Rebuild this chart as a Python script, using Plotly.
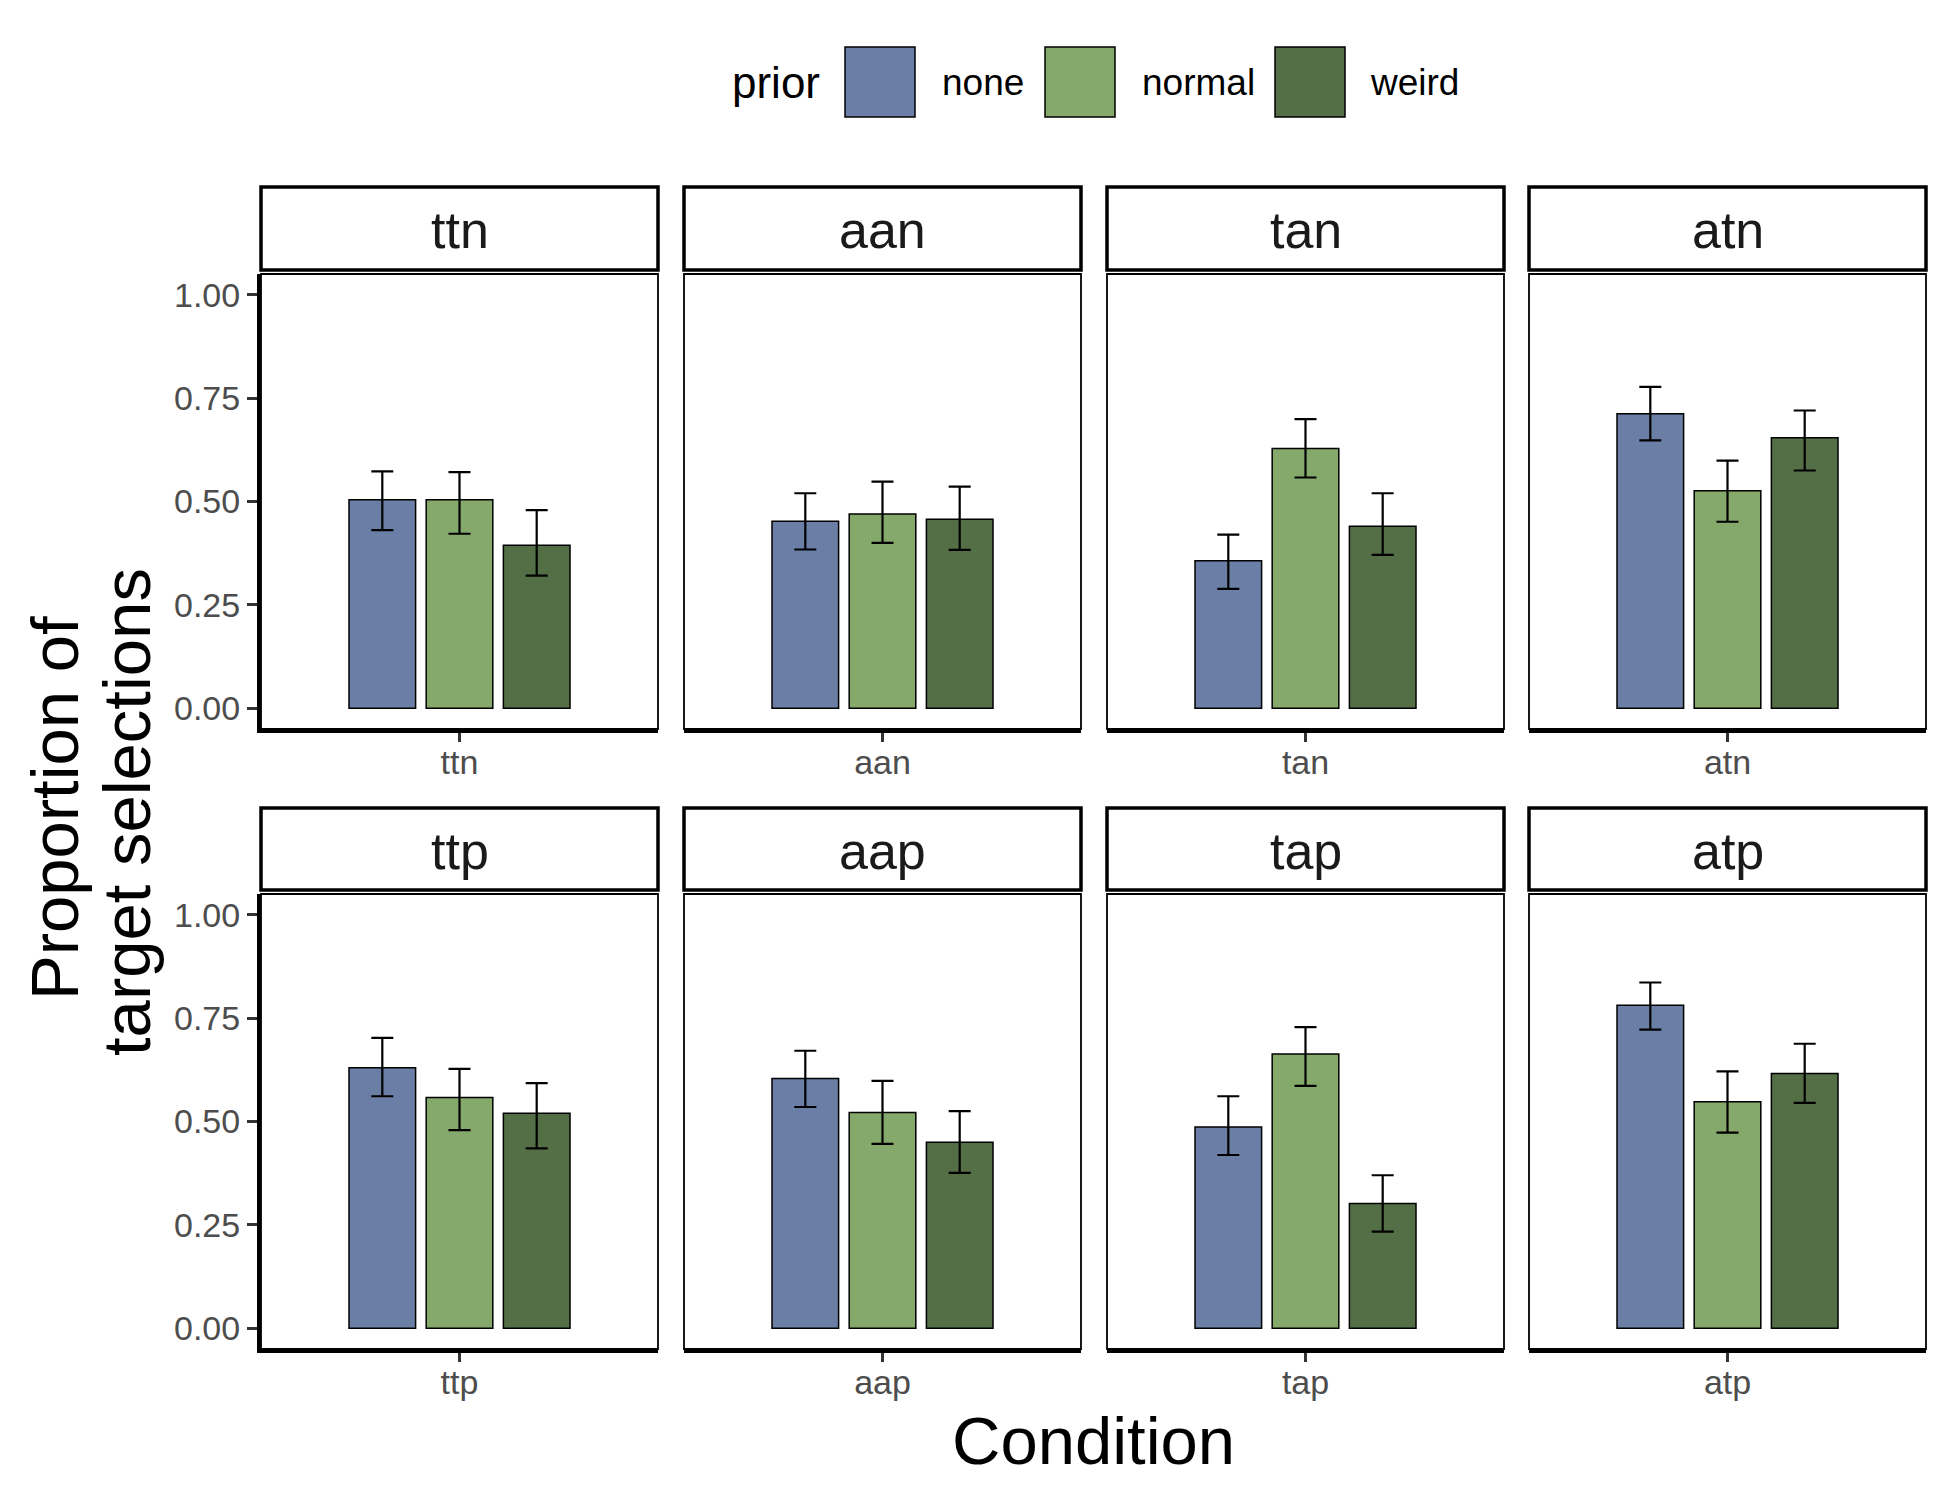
import plotly.graph_objects as go
from plotly.subplots import make_subplots

# Data
conditions = ["ttn", "aan", "tan", "atn", "ttp", "aap", "tap", "atp"]
priors = ["none", "normal", "weird"]

prop_none = [0.504, 0.452, 0.357, 0.712, 0.630, 0.604, 0.487, 0.781]
low_none = [0.431, 0.384, 0.289, 0.648, 0.561, 0.535, 0.419, 0.722]
high_none = [0.573, 0.520, 0.420, 0.777, 0.702, 0.671, 0.561, 0.836]

prop_normal = [0.504, 0.470, 0.628, 0.526, 0.558, 0.522, 0.663, 0.548]
low_normal = [0.422, 0.400, 0.558, 0.451, 0.479, 0.446, 0.586, 0.473]
high_normal = [0.571, 0.548, 0.699, 0.599, 0.627, 0.598, 0.728, 0.621]

prop_weird = [0.394, 0.457, 0.440, 0.654, 0.520, 0.450, 0.302, 0.616]
low_weird = [0.321, 0.383, 0.371, 0.575, 0.435, 0.376, 0.234, 0.545]
high_weird = [0.479, 0.536, 0.520, 0.720, 0.593, 0.525, 0.370, 0.688]

y_ticks = [0.0, 0.25, 0.5, 0.75, 1.0]

series = {
    "none": (prop_none, low_none, high_none),
    "normal": (prop_normal, low_normal, high_normal),
    "weird": (prop_weird, low_weird, high_weird),
}
colors = {"none": "#6b7fa6", "normal": "#85a96b", "weird": "#546e46"}

W, H = 1950, 1500
OFF = 8  # page body margin, figure is drawn 8px in from the window corner
FONT = "Liberation Sans, Arial, Helvetica, sans-serif"

# panel geometry in window pixels (left, right) / (top, bottom)
col_px = [(261, 658), (684, 1081), (1107, 1504), (1529, 1926)]
row_px = [(274, 729), (894, 1349)]
strip_px = [(187, 270), (808, 890)]


def px_x(v):
    return (v - OFF) / W


def px_y(v):
    return 1 - (v - OFF) / H


fig = make_subplots(rows=2, cols=4)

for idx, cond in enumerate(conditions):
    r, c = idx // 4 + 1, idx % 4 + 1
    for p in priors:
        vals, lo, hi = series[p]
        fig.add_trace(
            go.Bar(
                x=[cond], y=[vals[idx]],
                name=p,
                marker=dict(color=colors[p], line=dict(color="black", width=1.5)),
                error_y=dict(
                    type="data", symmetric=False,
                    array=[hi[idx] - vals[idx]],
                    arrayminus=[vals[idx] - lo[idx]],
                    color="black", thickness=2.2, width=11,
                ),
                showlegend=False,
            ),
            row=r, col=c,
        )

for idx, cond in enumerate(conditions):
    r, c = idx // 4, idx % 4
    n = idx + 1
    xa = "xaxis" if n == 1 else f"xaxis{n}"
    ya = "yaxis" if n == 1 else f"yaxis{n}"
    x0, x1 = col_px[c]
    t, b = row_px[r]
    fig.layout[xa].update(
        domain=[px_x(x0), px_x(x1)],
        range=[-0.6, 0.6],
        showline=True, linecolor="black", linewidth=4,
        ticks="outside", ticklen=9, tickwidth=3, tickcolor="#333333",
        ticklabelstandoff=-9,
        tickfont=dict(family=FONT, size=34, color="#4d4d4d"),
        showgrid=False, zeroline=False, fixedrange=True,
    )
    fig.layout[ya].update(
        domain=[px_y(b), px_y(t)],
        range=[-0.05, 1.05],
        tickvals=y_ticks, tickformat=".2f",
        showticklabels=(c == 0),
        showline=(c == 0), linecolor="black", linewidth=4,
        ticks="outside" if c == 0 else "", ticklen=10, tickwidth=3, tickcolor="#333333",
        tickfont=dict(family=FONT, size=34, color="#4d4d4d"),
        showgrid=False, zeroline=False, fixedrange=True,
    )
    xref = "x" if n == 1 else f"x{n}"
    yref = "y" if n == 1 else f"y{n}"
    # thin panel border
    fig.add_shape(type="rect", xref=f"{xref} domain", yref=f"{yref} domain",
                  x0=0, x1=1, y0=0, y1=1, line=dict(color="black", width=1.8),
                  fillcolor="rgba(0,0,0,0)", layer="above")
    # strip
    st, sb = strip_px[r]
    fig.add_shape(type="rect", xref="paper", yref="paper",
                  x0=px_x(x0), x1=px_x(x1), y0=px_y(sb), y1=px_y(st),
                  line=dict(color="black", width=3.5), fillcolor="white")
    fig.add_annotation(x=px_x((x0 + x1) / 2), y=px_y((st + sb) / 2 + 2),
                       xref="paper", yref="paper", text=cond, showarrow=False,
                       xanchor="center", yanchor="middle",
                       font=dict(family=FONT, size=52, color="#1a1a1a"))

# manual legend across the top
key_left = [845, 1045, 1275]
label_left = [940, 1140, 1368]
key_top, key_bot = 47, 117
fig.add_annotation(x=px_x(730), y=px_y(82), xref="paper", yref="paper",
                   text="prior", showarrow=False, xanchor="left", yanchor="middle",
                   font=dict(family=FONT, size=44, color="black"))
for p, kx, lx in zip(priors, key_left, label_left):
    fig.add_shape(type="rect", xref="paper", yref="paper",
                  x0=px_x(kx), x1=px_x(kx + 70), y0=px_y(key_bot), y1=px_y(key_top),
                  line=dict(color="black", width=1.5), fillcolor=colors[p])
    fig.add_annotation(x=px_x(lx), y=px_y(82), xref="paper", yref="paper",
                       text=p, showarrow=False, xanchor="left", yanchor="middle",
                       font=dict(family=FONT, size=37, color="black"))

# axis titles
fig.add_annotation(x=px_x(1093), y=px_y(1440), xref="paper", yref="paper",
                   text="Condition", showarrow=False, xanchor="center", yanchor="middle",
                   font=dict(family=FONT, size=67, color="black"))
for line, cx, cy in [("Proportion of", 54, 808), ("target selections", 126, 812)]:
    fig.add_annotation(x=px_x(cx), y=px_y(cy), xref="paper", yref="paper",
                       text=line, showarrow=False,
                       textangle=-90, xanchor="center", yanchor="middle",
                       font=dict(family=FONT, size=67, color="black"))

fig.update_layout(
    width=W, height=H,
    margin=dict(l=0, r=0, t=0, b=0),
    paper_bgcolor="white", plot_bgcolor="white",
    barmode="group", bargap=0.3, bargroupgap=0.137,
    showlegend=False,
    font=dict(family=FONT),
)

fig.write_html("out.html")
